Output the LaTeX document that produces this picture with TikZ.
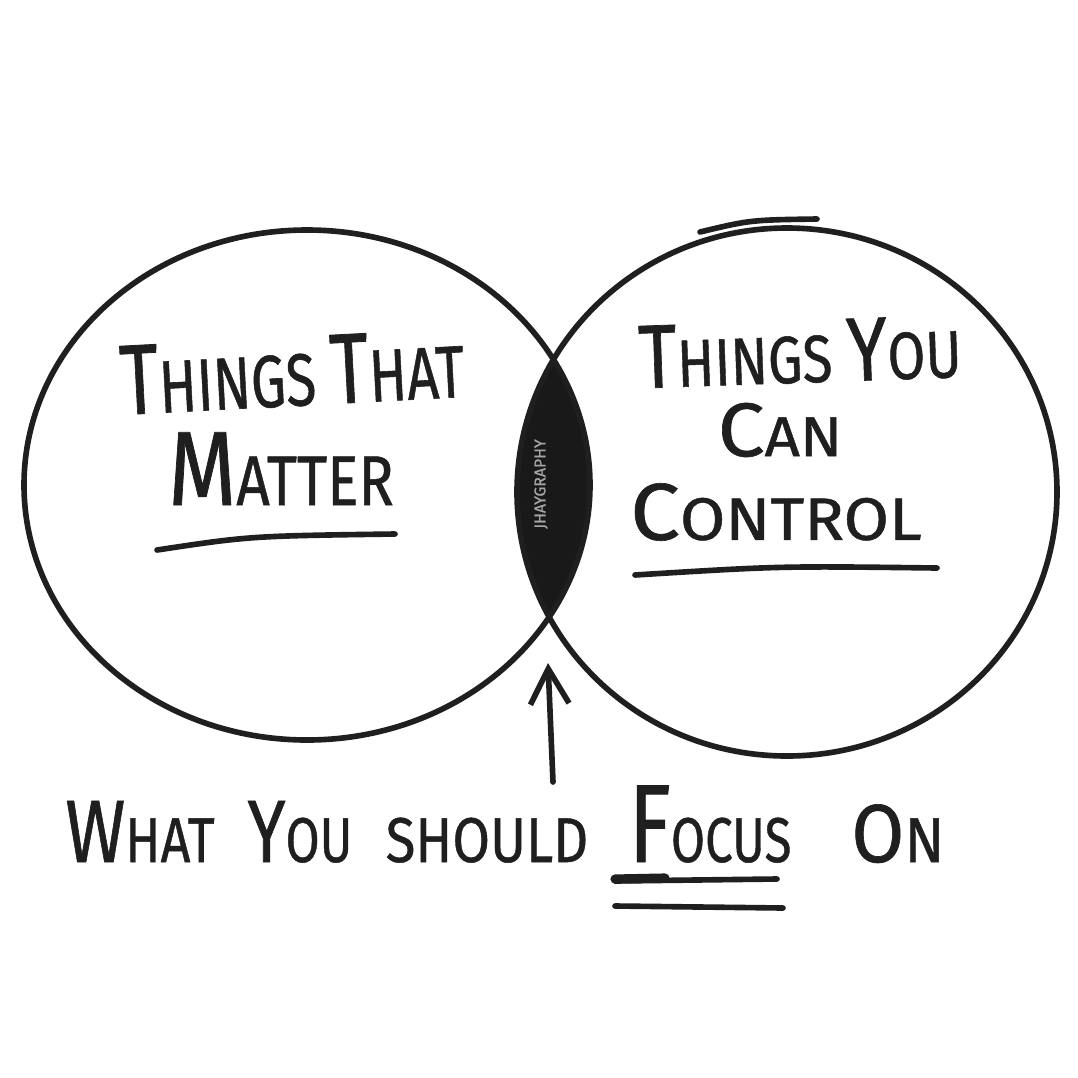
\documentclass[tikz,border=0pt]{standalone}
\usepackage{fontspec}
\setmainfont{Fira Sans}[FakeBold=0.8]
\usepackage{graphicx}
\usetikzlibrary{arrows.meta, positioning}
\tikzstyle{pen} = [line width=1.6pt, line cap=round, draw=black!88]
\tikzstyle{hand} = [inner sep=0pt, text=black!88]
\tikzstyle{word} = [hand, anchor=base, font=\fontsize{18}{18}\selectfont]
\newcommand{\lead}[2][1.35]{\scalebox{#1}{#2}}
\newcommand{\narrow}[2]{\scalebox{#1}[1]{#2}}

\begin{document}
\begin{tikzpicture}[x=0.01cm, y=-0.01cm]
    \fill[white] (0,0) rectangle (1078,1078);
    \useasboundingbox (0,0) rectangle (1078,1078);

    % the two circles and their overlap
    \begin{scope}
        \clip (307,485) ellipse [x radius=283, y radius=255];
        \fill[black!90] (787,492) ellipse [x radius=270, y radius=264];
    \end{scope}
    \draw[pen] (307,485) ellipse [x radius=283, y radius=255];
    \draw[pen] (787,492) ellipse [x radius=270, y radius=264];
    \draw[pen] (700,232) .. controls (750,220) .. (817,219);

    \node (mark) [rotate=90, text=gray!70, font=\fontsize{4.5}{5}\selectfont, inner sep=0pt] at (541,484) {JHAYGRAPHY};

    % left circle
    \node (matter1) [hand, rotate=3, font=\fontsize{21}{21}\selectfont] at (292,372) {\narrow{0.75}{\lead{T}HINGS \lead{T}HAT}};
    \node (matter2) [hand, anchor=base, font=\fontsize{20}{20}\selectfont] at (281,505) {\narrow{0.83}{\lead[1.5]{M}ATTER}};
    \draw[pen] (157,550) .. controls (250,536) .. (395,534);

    % right circle
    \node (control1) [hand, rotate=2, font=\fontsize{19}{19}\selectfont] at (800,352) {\narrow{0.82}{\lead{T}HINGS \lead{Y}OU}};
    \node (control2) [hand, font=\fontsize{16}{16}\selectfont] at (780,430) {\narrow{1.1}{\lead{C}AN}};
    \node (control3) [hand, font=\fontsize{17}{17}\selectfont] at (776,512) {\narrow{1.1}{\lead{C}ONTROL}};
    \draw[pen] (635,575) .. controls (780,566) .. (937,568);

    % arrow to the overlap
    \coordinate (focustip) at (548,663);
    \coordinate (focustail) at (553,782);
    \draw[pen, -{Straight Barb[length=10pt, width=11pt, line width=1.6pt]}] (focustail) -- (focustip);

    % bottom line
    \node (wWhat) [word] at (140,862) {\narrow{0.82}{\lead[1.4]{W}HAT}};
    \node (wYou) [word] at (300,862) {\narrow{0.78}{\lead[1.4]{Y}OU}};
    \node (wShould) [word] at (487,862) {\narrow{0.86}{SHOULD}};
    \node (wFocus) [word] at (710,862) {\narrow{0.78}{\lead[1.75]{F}OCUS}};
    \node (wOn) [word] at (898,862) {\narrow{0.93}{\lead[1.3]{O}N}};
    \draw[pen] (615,881) -- (777,879);
    \draw[pen, line width=2.6pt] (615,879) -- (665,878);
    \draw[pen] (615,906) -- (783,908);
\end{tikzpicture}
\end{document}
